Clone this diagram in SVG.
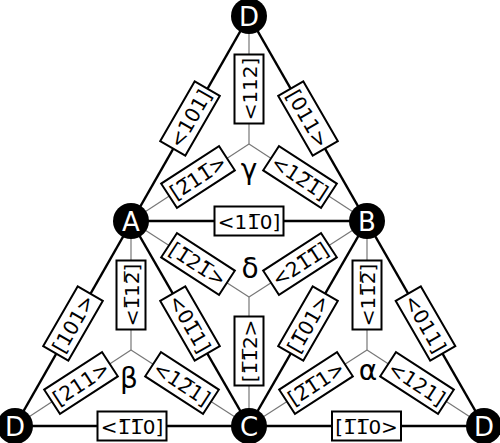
<svg xmlns="http://www.w3.org/2000/svg" width="500" height="443" viewBox="0 0 500 443">
<style>
.thick{stroke:#000;stroke-width:2.5;fill:none}
.thin{stroke:#777;stroke-width:1.2;fill:none}
.lb text{font-family:"DejaVu Sans",sans-serif;font-size:20px;text-anchor:middle;fill:#000}
.node circle{fill:#000}
.node text{font-family:"DejaVu Sans",sans-serif;font-size:26px;text-anchor:middle;fill:#fff}
.face text{font-family:"DejaVu Sans",sans-serif;font-size:28px;text-anchor:middle;fill:#000}
</style>
<defs>
<rect id="box" x="-34.5" y="-14.5" width="69" height="29" fill="#fff" stroke="#000" stroke-width="2"/>
</defs>
<g id="connectors">
<line class="thin" x1="249" y1="16" x2="249" y2="144"/>
<line class="thin" x1="131" y1="221" x2="249" y2="144"/>
<line class="thin" x1="367" y1="221" x2="249" y2="144"/>
<line class="thin" x1="131" y1="221" x2="249" y2="297"/>
<line class="thin" x1="367" y1="221" x2="249" y2="297"/>
<line class="thin" x1="249" y1="426" x2="249" y2="297"/>
<line class="thin" x1="131" y1="221" x2="131" y2="350"/>
<line class="thin" x1="15" y1="426" x2="131" y2="350"/>
<line class="thin" x1="249" y1="426" x2="131" y2="350"/>
<line class="thin" x1="367" y1="221" x2="367" y2="350"/>
<line class="thin" x1="249" y1="426" x2="367" y2="350"/>
<line class="thin" x1="484" y1="426" x2="367" y2="350"/>
<line class="thick" x1="249" y1="16" x2="15" y2="426"/>
<line class="thick" x1="249" y1="16" x2="484" y2="426"/>
<line class="thick" x1="15" y1="426" x2="484" y2="426"/>
<line class="thick" x1="131" y1="221" x2="367" y2="221"/>
<line class="thick" x1="131" y1="221" x2="249" y2="426"/>
<line class="thick" x1="367" y1="221" x2="249" y2="426"/>
<g class="lb" transform="translate(190,118.5) rotate(-60)"><use href="#box"/><text y="7.5">&lt;101]</text></g>
<g class="lb" transform="translate(308,118.5) rotate(60)"><use href="#box"/><text y="7.5">[011&gt;</text></g>
<g class="lb" transform="translate(249,221)"><use href="#box"/><text y="7.5">&lt;11&#773;0]</text></g>
<g class="lb" transform="translate(73,323.5) rotate(-60)"><use href="#box"/><text y="7.5">[101&gt;</text></g>
<g class="lb" transform="translate(190,323.5) rotate(60)"><use href="#box"/><text y="7.5">&lt;01&#773;1]</text></g>
<g class="lb" transform="translate(308,323.5) rotate(-60)"><use href="#box"/><text y="7.5">[1&#773;01&gt;</text></g>
<g class="lb" transform="translate(425.5,323.5) rotate(60)"><use href="#box"/><text y="7.5">&lt;011]</text></g>
<g class="lb" transform="translate(132,426)"><use href="#box"/><text y="7.5">&lt;1&#773;1&#773;0]</text></g>
<g class="lb" transform="translate(366.5,426)"><use href="#box"/><text y="7.5">[1&#773;1&#773;0&gt;</text></g>
<g class="lb" transform="translate(249,89) rotate(-90)"><use href="#box"/><text y="7.5">&lt;112]</text></g>
<g class="lb" transform="translate(198,177) rotate(-33)"><use href="#box"/><text y="7.5">[2&#773;11&#773;&gt;</text></g>
<g class="lb" transform="translate(300,177) rotate(33)"><use href="#box"/><text y="7.5">&lt;12&#773;1&#773;]</text></g>
<g class="lb" transform="translate(198,264) rotate(33)"><use href="#box"/><text y="7.5">[1&#773;21&#773;&gt;</text></g>
<g class="lb" transform="translate(300,264) rotate(-33)"><use href="#box"/><text y="7.5">&lt;21&#773;1&#773;]</text></g>
<g class="lb" transform="translate(249,351) rotate(-90)"><use href="#box"/><text y="7.5">[1&#773;1&#773;2&gt;</text></g>
<g class="lb" transform="translate(131,295) rotate(-90)"><use href="#box"/><text y="7.5">&lt;1&#773;12&#773;]</text></g>
<g class="lb" transform="translate(81,383) rotate(-33)"><use href="#box"/><text y="7.5">[211&gt;</text></g>
<g class="lb" transform="translate(182,383) rotate(33)"><use href="#box"/><text y="7.5">&lt;12&#773;1]</text></g>
<g class="lb" transform="translate(367,295) rotate(-90)"><use href="#box"/><text y="7.5">&lt;11&#773;2&#773;]</text></g>
<g class="lb" transform="translate(316,383) rotate(-33)"><use href="#box"/><text y="7.5">[2&#773;1&#773;1&gt;</text></g>
<g class="lb" transform="translate(417,383) rotate(33)"><use href="#box"/><text y="7.5">&lt;121]</text></g>
</g>
<g id="face-gamma" class="face"><text x="249" y="179">γ</text></g>
<g id="face-delta" class="face"><text x="250" y="278">δ</text></g>
<g id="face-beta" class="face"><text x="129" y="388">β</text></g>
<g id="face-alpha" class="face"><text x="368" y="380">α</text></g>
<g id="node-D-top" class="node"><circle cx="249" cy="16" r="18"/><text x="249" y="25.5">D</text></g>
<g id="node-A" class="node"><circle cx="131" cy="221" r="18"/><text x="131" y="230.5">A</text></g>
<g id="node-B" class="node"><circle cx="367" cy="221" r="18"/><text x="367" y="230.5">B</text></g>
<g id="node-C" class="node"><circle cx="249" cy="426" r="18"/><text x="249" y="435.5">C</text></g>
<g id="node-D-left" class="node"><circle cx="15" cy="426" r="18"/><text x="15" y="435.5">D</text></g>
<g id="node-D-right" class="node"><circle cx="484" cy="426" r="18"/><text x="484" y="435.5">D</text></g>
</svg>
